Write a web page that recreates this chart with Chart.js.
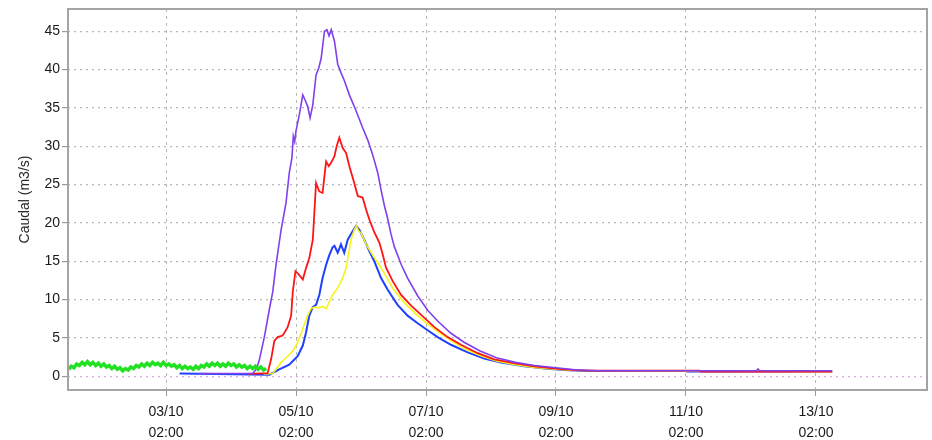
<!DOCTYPE html>
<html>
<head>
<meta charset="utf-8">
<script src="https://cdn.jsdelivr.net/npm/chart.js@4/dist/chart.umd.min.js"></script>
<style>
  html, body { margin: 0; padding: 0; background: #fff; }
  #wrap { width: 932px; height: 440px; }
</style>
</head>
<body>
<div id="wrap"><canvas id="caudalChart" width="932" height="440"></canvas></div>
<script>
// eixo x em horas desde 01/10 00:00
const xTickHours = [50, 98, 146, 194, 242, 290];
const xTickLabels = [
    ['03/10', '02:00'], ['05/10', '02:00'], ['07/10', '02:00'],
    ['09/10', '02:00'], ['11/10', '02:00'], ['13/10', '02:00']
];

// caudal observado (verde)
const obsHours = [
    14, 15, 16, 17, 18, 19, 20, 21, 22, 23, 24, 25, 26, 27, 28, 29, 30, 31, 32, 33,
    34, 35, 36, 37, 38, 39, 40, 41, 42, 43, 44, 45, 46, 47, 48, 49, 50, 51, 52, 53,
    54, 55, 56, 57, 58, 59, 60, 61, 62, 63, 64, 65, 66, 67, 68, 69, 70, 71, 72, 73,
    74, 75, 76, 77, 78, 79, 80, 81, 82, 83, 84, 85, 86, 87
];
const obsFlow = [
    0.9, 1.3, 1.1, 1.6, 1.4, 1.8, 1.5, 1.9, 1.5, 1.8, 1.4, 1.7, 1.3, 1.6, 1.2, 1.4, 1.0, 1.3, 0.9, 1.1,
    0.7, 1.0, 0.8, 1.2, 1.0, 1.4, 1.2, 1.6, 1.3, 1.7, 1.4, 1.8, 1.5, 1.7, 1.4, 1.8, 1.4, 1.6, 1.3, 1.5,
    1.1, 1.4, 1.0, 1.3, 1.0, 1.2, 0.9, 1.3, 1.0, 1.4, 1.2, 1.6, 1.3, 1.7, 1.4, 1.7, 1.3, 1.6, 1.3, 1.7,
    1.4, 1.6, 1.2, 1.5, 1.2, 1.4, 1.0, 1.3, 1.0, 1.3, 0.9, 1.2, 0.8, 1.0
];

// previsao roxa
const purpleHours = [
    62, 82, 83.5, 84.5, 86.3, 88.2, 89.4, 90.6, 91.5, 92.5, 94.3, 95.5, 96.5, 97, 97.5, 98, 99.2, 100.5,
    101.5, 102.3, 103.2, 104.2, 105.4, 106.4, 107.3, 108.5, 109.4, 110.2, 111, 112.2, 113.4, 114.6,
    115.9, 117.7, 120.2, 122.6, 124.5, 126.3, 128.2, 129.4, 130.6, 131.8, 133.1, 134.3, 136.8, 139.2,
    142.9, 146.6, 150.3, 155.2, 160.2, 166, 172, 179, 186, 194, 201, 210, 268, 268.6, 269.2, 296
];
const purpleFlow = [
    0.35, 0.35, 1.0, 2.2, 5.1, 8.8, 11, 14.5, 16.7, 19.1, 22.6, 26.5, 28.5, 31.3, 30.6, 32, 34.1, 36.7,
    35.9, 35.2, 33.7, 35.4, 39.3, 40.2, 41.5, 45, 45.2, 44.4, 45.2, 43.7, 40.7, 39.6,
    38.5, 36.7, 34.6, 32.4, 30.8, 28.9, 26.5, 24.3, 22.3, 20.6, 18.5, 16.9, 14.6, 12.8,
    10.5, 8.6, 7.2, 5.6, 4.4, 3.3, 2.4, 1.8, 1.4, 1.1, 0.85, 0.72, 0.72, 0.95, 0.72, 0.72
];

// previsao vermelha
const redHours = [
    80, 87.5, 88.8, 90, 91.2, 93.1, 94.9, 96.2, 96.8, 97.8, 99.2, 100.5, 101.7, 102.9, 104.2, 105.4,
    106.6, 107.8, 109.1, 110.1, 110.9, 112.2, 113, 114, 115.2, 116.5, 117.7, 119.5, 120.8, 122.6,
    123.9, 125.1, 126.9, 128.8, 130, 131.2, 133.7, 136.8, 140.5, 144.2, 149.1, 154, 158.9, 165.1,
    171.2, 178.6, 186, 194, 201, 207, 247, 247.5, 296
];
const redFlow = [
    0.3, 0.4, 2.2, 4.6, 5.1, 5.3, 6.4, 7.9, 11, 13.7, 13.2, 12.6, 14.1, 15.4, 17.8, 25.2,
    24.1, 23.9, 28, 27.4, 27.8, 28.7, 30, 31.1, 29.8, 29.1, 27.4, 25.2, 23.5, 23.3,
    21.7, 20.4, 18.8, 17.4, 15.9, 14.2, 12.4, 10.6, 9.2, 8.0, 6.4, 5.1, 4.1, 3.0,
    2.2, 1.7, 1.3, 1.0, 0.8, 0.72, 0.72, 0.6, 0.6
];

// previsao amarela
const yellowHours = [
    86, 89.4, 92.5, 94.9, 96.8, 98.6, 99.8, 101.1, 102.3, 103.5, 104.8, 106, 107.8, 109.1, 110.3,
    111.5, 112.8, 114, 115.2, 116.5, 117.1, 118.3, 119.5, 120.3, 121.2, 122, 123.9, 126.3, 128.2,
    130, 134, 138, 142, 146, 150, 155, 160, 166, 172, 179, 186, 194, 201, 296
];
const yellowFlow = [
    0.3, 0.35, 1.8, 2.6, 3.3, 4.4, 5.5, 6.8, 7.9, 8.8, 9, 8.9, 9.1, 8.8, 9.7,
    10.6, 11.2, 11.9, 12.8, 14.1, 15.4, 17.8, 19.1, 19.6, 18.9, 18.7, 17.2, 15.8, 14.8,
    13.8, 11.3, 9.6, 8.2, 7.0, 5.9, 4.7, 3.6, 2.7, 2.0, 1.5, 1.15, 0.9, 0.75, 0.6
];

// previsao azul
const blueHours = [
    55, 88.2, 91.8, 95.5, 98.6, 100.5, 101.7, 102.9, 104.2, 105.4, 106.6, 107.8, 109.1, 110.3, 111.5,
    112.2, 113.4, 114.6, 115.8, 117.1, 118.9, 120.2, 121.4, 123.2, 125.1, 126.9, 129.4, 131.8, 135.5,
    139.2, 142.9, 146.6, 150.3, 155.2, 161.4, 167.5, 173.7, 182.3, 190, 197, 205, 242, 242.5, 296
];
const blueFlow = [
    0.35, 0.2, 0.9, 1.5, 2.6, 4, 5.7, 7.9, 9, 9.3, 10.6, 12.8, 14.5, 15.8, 16.8,
    17, 16.1, 17.2, 16.1, 17.8, 18.9, 19.6, 19.1, 17.8, 16.3, 15.0, 12.8, 11.3, 9.3,
    7.9, 6.9, 6.0, 5.1, 4.1, 3.1, 2.3, 1.8, 1.3, 1.0, 0.8, 0.68, 0.68, 0.6, 0.6
];

const pontos = (horas, valores) => horas.map((h, i) => ({ x: h, y: valores[i] }));

// moldura cinza em volta da area do grafico
const moldura = {
    id: 'moldura',
    afterDatasetsDraw(chart) {
        const { ctx, chartArea: a } = chart;
        ctx.save();
        ctx.strokeStyle = '#a4a4a4';
        ctx.lineWidth = 2;
        ctx.strokeRect(a.left, a.top, a.right - a.left, a.bottom - a.top);
        ctx.restore();
    }
};

const fonte = 'Liberation Sans, Arial, sans-serif';

const ctx = document.getElementById('caudalChart').getContext('2d');
const caudalChart = new Chart(ctx, {
    type: 'line',
    data: {
        datasets: [
            { label: 'Observado', data: pontos(obsHours, obsFlow), borderColor: '#22e022', borderWidth: 3.5 },
            { label: 'Roxo', data: pontos(purpleHours, purpleFlow), borderColor: '#8040ec', borderWidth: 1.6 },
            { label: 'Vermelho', data: pontos(redHours, redFlow), borderColor: '#ff1414', borderWidth: 1.8 },
            { label: 'Amarelo', data: pontos(yellowHours, yellowFlow), borderColor: '#f4f41c', borderWidth: 1.6 },
            { label: 'Azul', data: pontos(blueHours, blueFlow), borderColor: '#2040ff', borderWidth: 2 }
        ]
    },
    options: {
        responsive: false,
        animation: false,
        parsing: false,
        elements: { point: { radius: 0 }, line: { tension: 0 } },
        layout: { padding: { top: 9, right: 5, left: 0, bottom: 0 } },
        plugins: { legend: { display: false }, tooltip: { enabled: false } },
        scales: {
            x: {
                type: 'linear',
                min: 13.8,
                max: 331,
                afterFit: (s) => { s.height = 50; },
                afterBuildTicks: (s) => { s.ticks = xTickHours.map((v) => ({ value: v })); },
                ticks: {
                    autoSkip: false,
                    maxRotation: 0,
                    padding: 6,
                    color: '#1a1a1a',
                    font: { family: fonte, size: 14, lineHeight: 1.5 },
                    callback: (v, i) => xTickLabels[i]
                },
                grid: { color: '#b8b8b8', lineWidth: 1, tickLength: 6, tickColor: '#9a9a9a', tickBorderDash: [] },
                border: { display: false, dash: [3, 4] }
            },
            y: {
                min: -1.8,
                max: 47.9,
                afterFit: (s) => { s.width = 68; },
                ticks: {
                    stepSize: 5,
                    includeBounds: false,
                    padding: 2,
                    color: '#1a1a1a',
                    font: { family: fonte, size: 14, lineHeight: 1 }
                },
                title: {
                    display: true,
                    text: 'Caudal (m3/s)',
                    color: '#2a2a2a',
                    font: { family: fonte, size: 14 },
                    padding: { top: 17, bottom: 0 }
                },
                grid: {
                    color: (c) => (c.tick && c.tick.value === 0 ? '#dcaae2' : '#b8b8b8'),
                    lineWidth: 1.2,
                    tickLength: 6,
                    tickColor: '#9a9a9a',
                    tickBorderDash: []
                },
                border: { display: false, dash: [2, 4] }
            }
        }
    },
    plugins: [moldura]
});
</script>
</body>
</html>
